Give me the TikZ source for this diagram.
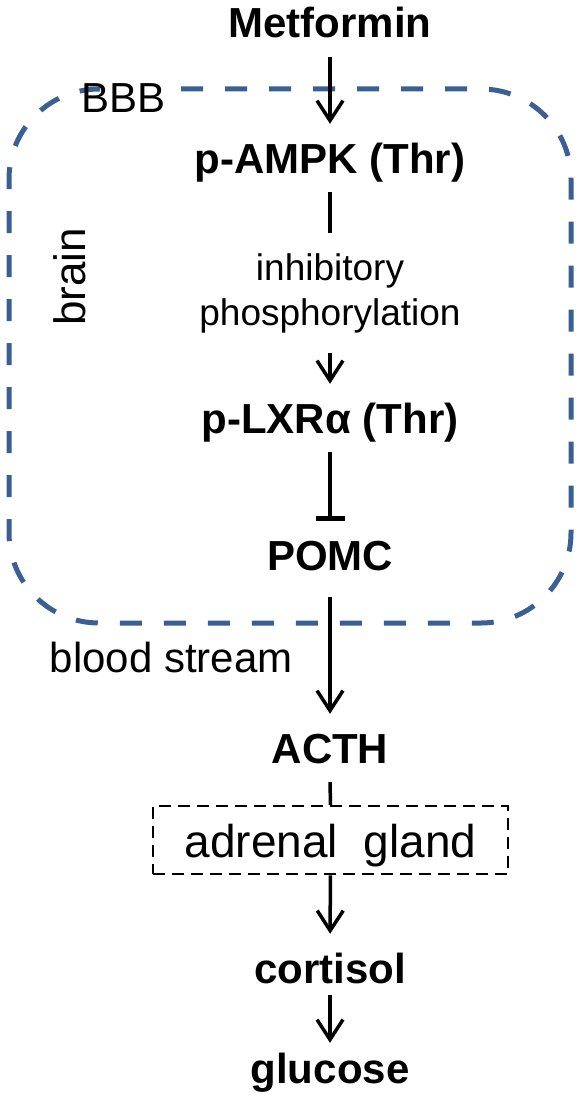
\documentclass[tikz,border=0pt]{standalone}
\usepackage{fontspec}
\setmainfont{Liberation Sans}
\usetikzlibrary{arrows.meta}
\definecolor{bbbblue}{HTML}{3A6093}
\def\boldlbl{\fontsize{42}{50}\selectfont\bfseries}
\def\thinlbl#1{\fontsize{#1}{45}\selectfont}

\begin{document}
\begin{tikzpicture}[x=1pt, y=-1pt,
		mol/.style={font=\boldlbl, text height=30pt, text depth=0pt, inner xsep=0pt, inner ysep=19pt, anchor=base},
		arr/.style={line width=3.5pt, -{Straight Barb[length=20pt, width=26pt]}},
		blk/.style={line width=3.5pt, -{Bar[width=29pt, line width=4.5pt]}},
		plain/.style={line width=3.5pt},
		bbbline/.style={bbbblue, line width=5pt, dash pattern=on 22pt off 22pt, rounded corners=90pt},
		gland/.style={draw, line width=2.5pt, dash pattern=on 12pt off 7pt, minimum width=355pt, minimum height=68pt, text height=34pt, text depth=0pt, font=\thinlbl{46}}]
			%%%%% START %%%%%
			\useasboundingbox (0,0) rectangle (581,1097);
			
			\draw[bbbline] (181,89) -- (571,89) -- (571,623) -- (9,623) -- (9,89) -- (100,89);
			\node[font=\thinlbl{42}, anchor=base west] (bbb) at (78,113) {BBB};
			\node[font=\thinlbl{44}, rotate=90, anchor=base] (brain) at (85,277) {brain};
			
			\node[mol] (metf) at (330,38) {Metformin};
			\node[mol] (ampk) at (330,173) {p-AMPK (Thr)};
			\node[font=\thinlbl{37}, align=center, inner xsep=0pt, inner ysep=20pt] (inhib) at (330,293) {inhibitory\\phosphorylation};
			\node[mol] (lxr) at (330,433) {p-LXRα (Thr)};
			\node[mol] (pomc) at (330,570) {POMC};
			\node[font=\thinlbl{42}, anchor=base east] (blood) at (296,672) {blood stream};
			\node[mol] (acth) at (330,763) {ACTH};
			\node[gland] (adrenal) at (330.5,840) {adrenal\ \ gland};
			\node[mol] (cort) at (330,983) {cortisol};
			\node[mol] (gluc) at (330,1083) {glucose};
			
			\draw[arr] (metf) -- (ampk);
			\draw[plain] (ampk) -- (inhib);
			\draw[arr] (inhib) -- (lxr);
			\draw[blk] (lxr) -- (pomc);
			\draw[arr, shorten <=8pt] (pomc) -- (acth);
			\draw[plain] (acth) -- (adrenal);
			\draw[arr] (adrenal) -- (cort);
			\draw[arr, shorten <=-7pt, shorten >=-9pt] (cort) -- (gluc);
			
			%%%%% END %%%%%
\end{tikzpicture}
\end{document}
